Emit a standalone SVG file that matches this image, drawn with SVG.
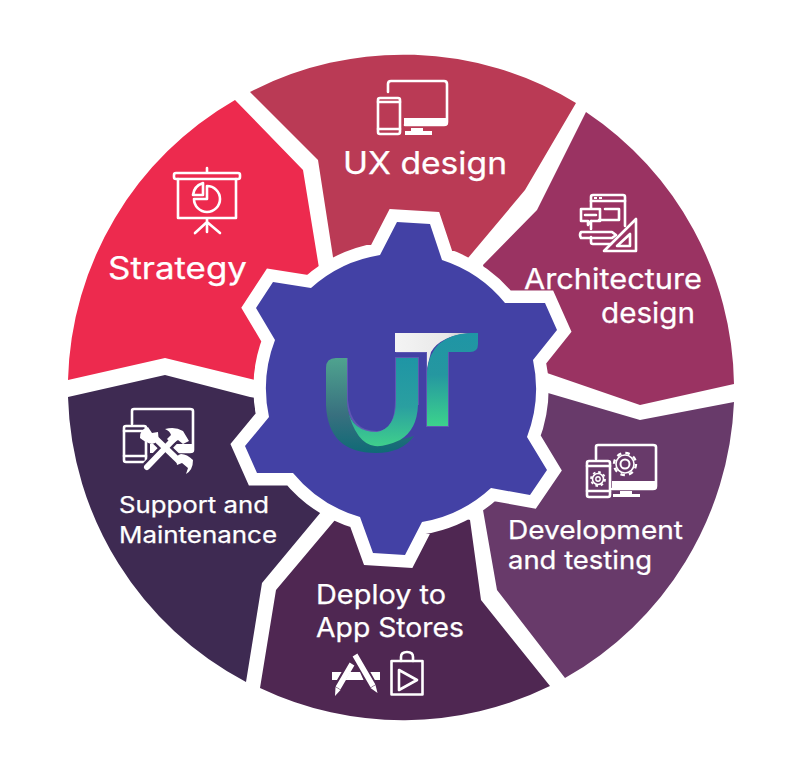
<svg xmlns="http://www.w3.org/2000/svg" width="809" height="768" viewBox="0 0 809 768">
<style>
.t{font-family:"Inter","Noto Sans","Liberation Sans",sans-serif;fill:#fff;font-weight:400;stroke:#fff;stroke-width:.25}
.i{fill:none;stroke:#fff;stroke-width:2.6;stroke-linejoin:round;stroke-linecap:round}
.f{fill:#fff;stroke:none}
</style>
<defs>
<linearGradient id="tg" x1="0" y1="0" x2="0" y2="1"><stop offset="0" stop-color="#1f95a5"/><stop offset=".45" stop-color="#2597a0"/><stop offset="1" stop-color="#3cd38c"/></linearGradient>
<linearGradient id="ul" x1="0" y1="0" x2="0" y2="1"><stop offset="0" stop-color="#4fa38f"/><stop offset=".6" stop-color="#38707f"/><stop offset="1" stop-color="#0f6a76"/></linearGradient>
<linearGradient id="ur" x1="0" y1="0" x2="0" y2="1"><stop offset="0" stop-color="#1f95a5"/><stop offset=".55" stop-color="#2a9fa0"/><stop offset="1" stop-color="#3fcf8c"/></linearGradient>
<linearGradient id="wb" x1="0" y1="0" x2="1" y2="0"><stop offset="0" stop-color="#f4f4f4"/><stop offset=".7" stop-color="#e8e8e8"/><stop offset="1" stop-color="#b8b8b8"/></linearGradient>
</defs>

<g id="segments">
<path id="seg-strategy" fill="#ED2A4E" d="M68,380A333,333 0 0 1 235,100L303,170L319,268L300,300L270,385L255,380L165,358Z"/>
<path id="seg-ux" fill="#BA3A55" d="M250,92A333,333 0 0 1 576,103L525,190L468,258L440,300L340,300L333,257L318,160Z"/>
<path id="seg-architecture" fill="#9A3362" d="M586,112A333,333 0 0 1 734,384L640,405L547,373L500,350L483,265L537,210Z"/>
<path id="seg-development" fill="#683A6A" d="M734,402A333,333 0 0 1 565,678L497,590L483,510L470,440L548,393L640,420Z"/>
<path id="seg-deploy" fill="#4F2752" d="M550,686A333,333 0 0 1 260,688L276,590L335,520L400,500L470,520L481,600Z"/>
<path id="seg-support" fill="#3E2A52" d="M68,397A333,333 0 0 0 246,682L262,583L321,512L290,470L270,400L250,397L165,375Z"/>
</g>

<g id="gear">
<path id="gear-halo" fill="#fff" stroke="#fff" stroke-width="25" stroke-linejoin="miter" stroke-miterlimit="3" d="M397,222L430,224L442,260A135,135 0 0 1 505,303L545,303L557,330L533,360A135,135 0 0 1 527,437L547,470L530,495L491,488A135,135 0 0 1 422,522L405,555L373,553L360,517A135,135 0 0 1 293,473L257,473L245,446L269,417A135,135 0 0 1 275,340L256,308L273,282L311,288A135,135 0 0 1 380,255Z"/>
<path id="gear-body" fill="#4341A5" d="M397,222L430,224L442,260A135,135 0 0 1 505,303L545,303L557,330L533,360A135,135 0 0 1 527,437L547,470L530,495L491,488A135,135 0 0 1 422,522L405,555L373,553L360,517A135,135 0 0 1 293,473L257,473L245,446L269,417A135,135 0 0 1 275,340L256,308L273,282L311,288A135,135 0 0 1 380,255Z"/>
</g>

<g id="logo">
<path fill="none" stroke="#5f57b3" stroke-width="2" d="M347,358V400Q350,432 377,432Q396,432 396,400V358H418V405M396,352H427V426H448V352"/>
<path fill="url(#wb)" d="M395,333H470Q440,336 431,352L427,368V352H395Z"/>
<path fill="url(#tg)" d="M427,426V372Q430,335 470,333H478V344Q478,352 470,352H448V426Z"/>
<path fill="url(#ul)" d="M347,358H336Q326,358 326,368V405Q328,453 376,453Q402,453 414,436Q380,446 360,430Q347,420 347,400Z"/>
<path fill="url(#ur)" d="M396,358H418V405Q417,430 400,440Q385,447 375,446Q356,444 347,408Q352,432 377,432Q396,428 396,400Z"/>
</g>

<g id="node-ux">
<path class="i" d="M388,92V84Q388,81 391,81H444Q447,81 447,84V122Q447,125 444,125H405"/>
<path class="f" d="M404,118H448V122Q448,126 444,126H404Z"/>
<path class="f" d="M411,128H423V131H432V135H405V131H411Z"/>
<rect class="i" x="378" y="98" width="22" height="36" rx="2"/>
<path class="i" d="M378,102H400M378,129H400"/>
<text class="t" x="343" y="174" font-size="31" textLength="164" lengthAdjust="spacingAndGlyphs">UX design</text>
</g>

<g id="node-strategy">
<rect class="i" x="174" y="173" width="66" height="6" rx="2"/>
<path class="i" d="M207,172V168M178,179V218H236V179M207,218V232M207,222L195,233M207,222L220,233"/>
<path class="i" d="M207,186A13,13 0 1 1 194,199H207Z"/>
<path class="i" d="M203,183V195H193Q194,186 203,183Z"/>
<text class="t" x="108" y="279" font-size="31" textLength="139" lengthAdjust="spacingAndGlyphs">Strategy</text>
</g>

<g id="node-architecture">
<path class="i" d="M591,208V197Q591,195 593,195H623Q625,195 625,197V226M591,221V229M591,237V242Q591,244 593,244H611"/>
<path class="i" d="M591,201H625"/>
<path class="f" d="M594,197h3v2h-3zM599,197h3v2h-3z"/>
<path class="i" d="M581,209H600V221H591L588,225V221H581Z"/>
<path class="i" d="M585,215H596M605,209H619V220H599"/>
<path class="i" d="M581,232H612L616,235L612,238H581Q579,235 581,232Z"/>
<path class="i" d="M636,219V251H604Z"/>
<path class="i" d="M630,234V246H617Z"/>
<text class="t" x="524" y="289" font-size="28" textLength="178" lengthAdjust="spacingAndGlyphs">Architecture</text>
<text class="t" x="601" y="323" font-size="28" textLength="94" lengthAdjust="spacingAndGlyphs">design</text>
</g>

<g id="node-development">
<path class="i" d="M596,459V447Q596,445 598,445H653Q656,445 656,447V486Q656,489 653,489H612"/>
<path class="f" d="M612,481H657V486Q657,490 653,490H612Z"/>
<path class="f" d="M620,491H632V494H640V497H613V494H620Z"/>
<rect class="i" x="587" y="461" width="23" height="36" rx="2"/>
<path class="i" d="M587,466H610M587,491H610"/>
<circle cx="625" cy="464" r="11" fill="none" stroke="#fff" stroke-width="2.4" stroke-dasharray="4.500 4.140"/>
<circle cx="625" cy="464" r="9" fill="none" stroke="#fff" stroke-width="1.6"/>
<circle cx="625" cy="464" r="4.500" fill="none" stroke="#fff" stroke-width="2"/>
<circle cx="598" cy="479" r="5.500" fill="none" stroke="#fff" stroke-width="1.6"/>
<circle cx="598" cy="479" r="2.200" fill="none" stroke="#fff" stroke-width="1.4"/>
<circle cx="598" cy="479" r="7" fill="none" stroke="#fff" stroke-width="1.8" stroke-dasharray="2.600 2.900"/>
<text class="t" x="508" y="539" font-size="25.5" textLength="175" lengthAdjust="spacingAndGlyphs">Development</text>
<text class="t" x="508" y="569" font-size="25.5" textLength="144" lengthAdjust="spacingAndGlyphs">and testing</text>
</g>

<g id="node-deploy">
<text class="t" x="316" y="604" font-size="26.5" textLength="130" lengthAdjust="spacingAndGlyphs">Deploy to</text>
<text class="t" x="316" y="637" font-size="26.5" textLength="148" lengthAdjust="spacingAndGlyphs">App Stores</text>
<rect class="f" x="332" y="672" width="48" height="8"/>
<path d="M352,664L337,690M355,655L373,687" fill="none" stroke="#4F2752" stroke-width="10"/>
<path d="M352,664L338,688M355,655L373,686" fill="none" stroke="#fff" stroke-width="5.500"/>
<path class="f" d="M335.500,687L340.500,690L335,696ZM370.500,688L375.500,685L377.500,693Z"/>
<path class="f" d="M350,672H360L363.500,680H345.500Z"/>
<path class="i" d="M391.500,661H422.500V694.500H391.500Z"/>
<path class="i" d="M401,661V657Q401,652 407,652Q413,652 413,657V661"/>
<path class="i" d="M399,670L417,680L399,690Z"/>
</g>

<g id="node-support">
<path class="i" d="M132,424V411Q132,409 134,409H190Q193,409 193,411V450Q193,452 190,452H178"/>
<path class="f" d="M150,444H194V449Q194,453 190,453H150Z"/>
<rect class="i" x="124" y="426" width="22" height="36" rx="2"/>
<path class="i" d="M124,431H146M124,456H146"/>
<path d="M155,438L180,462M173,440L147,467M149,433L144,440M184,464L190,470" fill="none" stroke="#3E2A52" stroke-width="11"/>
<path d="M155,438L180,462" fill="none" stroke="#fff" stroke-width="6"/>
<path d="M173,440L147,467" fill="none" stroke="#fff" stroke-width="6" stroke-linecap="round"/>
<path class="f" d="M148,427L152,433L158,432Q160,442 152,444Q146,443 140,438Q139,430 148,427Z"/>
<path class="f" d="M192,468L186,463L181,465Q179,455 185,454Q191,454 197,460Q197,470 190,474Z" transform="translate(-4,0)"/>
<path class="f" d="M165,429Q175,426 183,431L189,441L183,444L178,440L172,444L167,439L171,435Q170,431 165,429Z"/>
<text class="t" x="119" y="513" font-size="22.5" textLength="150" lengthAdjust="spacingAndGlyphs">Support and</text>
<text class="t" x="119" y="543" font-size="22.5" textLength="158" lengthAdjust="spacingAndGlyphs">Maintenance</text>
</g>
</svg>
